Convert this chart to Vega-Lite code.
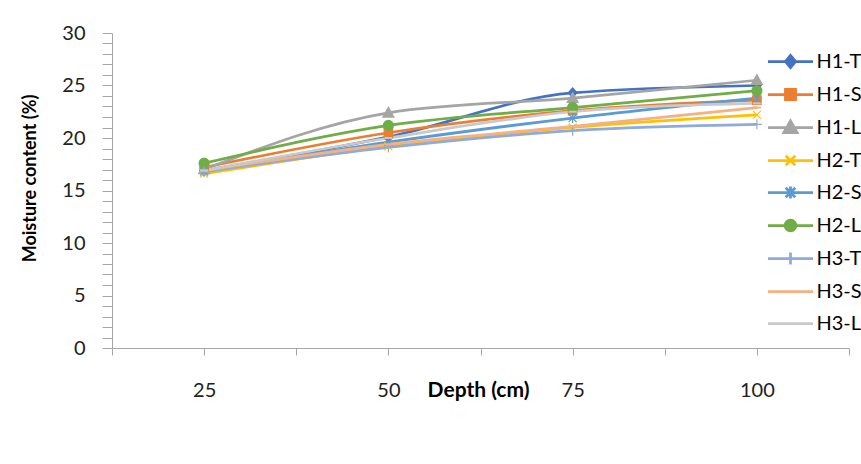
{
  "$schema": "https://vega.github.io/schema/vega-lite/v6.json",
  "width": 737,
  "height": 315,
  "autosize": {"type": "none"},
  "padding": {"left": 112, "top": 33, "right": 12, "bottom": 116},
  "background": "white",
  "config": {
    "view": {"stroke": null},
    "font": "Lato",
    "point": {"filled": true, "size": 100, "strokeWidth": 1.2, "opacity": 1},
    "axis": {"domainColor": "#A6A6A6", "tickColor": "#A6A6A6", "grid": false, "labelFont": "Lato", "labelFontSize": 20, "labelColor": "#222222", "titleFont": "Lato", "titleFontWeight": "bold", "titleColor": "#000000"}
  },
  "data": {"values": [
    {"series": "H1-T", "depth": 25, "moisture": 16.9}, {"series": "H1-T", "depth": 50, "moisture": 20.1}, {"series": "H1-T", "depth": 75, "moisture": 24.3}, {"series": "H1-T", "depth": 100, "moisture": 25.0},
    {"series": "H1-S", "depth": 25, "moisture": 17.2}, {"series": "H1-S", "depth": 50, "moisture": 20.5}, {"series": "H1-S", "depth": 75, "moisture": 22.6}, {"series": "H1-S", "depth": 100, "moisture": 23.6},
    {"series": "H1-L", "depth": 25, "moisture": 17.0}, {"series": "H1-L", "depth": 50, "moisture": 22.4}, {"series": "H1-L", "depth": 75, "moisture": 23.8}, {"series": "H1-L", "depth": 100, "moisture": 25.5},
    {"series": "H2-T", "depth": 25, "moisture": 16.6}, {"series": "H2-T", "depth": 50, "moisture": 19.2}, {"series": "H2-T", "depth": 75, "moisture": 21.0}, {"series": "H2-T", "depth": 100, "moisture": 22.2},
    {"series": "H2-S", "depth": 25, "moisture": 16.8}, {"series": "H2-S", "depth": 50, "moisture": 19.6}, {"series": "H2-S", "depth": 75, "moisture": 21.9}, {"series": "H2-S", "depth": 100, "moisture": 23.8},
    {"series": "H2-L", "depth": 25, "moisture": 17.6}, {"series": "H2-L", "depth": 50, "moisture": 21.2}, {"series": "H2-L", "depth": 75, "moisture": 22.9}, {"series": "H2-L", "depth": 100, "moisture": 24.5},
    {"series": "H3-T", "depth": 25, "moisture": 16.8}, {"series": "H3-T", "depth": 50, "moisture": 19.1}, {"series": "H3-T", "depth": 75, "moisture": 20.7}, {"series": "H3-T", "depth": 100, "moisture": 21.3},
    {"series": "H3-S", "depth": 25, "moisture": 16.9}, {"series": "H3-S", "depth": 50, "moisture": 19.4}, {"series": "H3-S", "depth": 75, "moisture": 21.1}, {"series": "H3-S", "depth": 100, "moisture": 22.9},
    {"series": "H3-L", "depth": 25, "moisture": 16.9}, {"series": "H3-L", "depth": 50, "moisture": 20.0}, {"series": "H3-L", "depth": 75, "moisture": 22.5}, {"series": "H3-L", "depth": 100, "moisture": 23.3}
  ]},
  "encoding": {
    "x": {"field": "depth", "type": "quantitative",
      "scale": {"domain": [12.5, 112.5], "nice": false, "zero": false},
      "axis": {"values": [12.5, 25, 37.5, 50, 62.5, 75, 87.5, 100, 112.5], "labelExpr": "datum.value % 25 === 0 ? datum.label : ''", "tickSize": 7, "labelPadding": 35, "labelBaseline": "middle", "labelFlush": false, "title": "Depth (cm)", "titleFontSize": 21, "titleX": 366, "titleY": 42, "titleBaseline": "middle", "titleAlign": "center"}},
    "y": {"field": "moisture", "type": "quantitative",
      "scale": {"domain": [0, 30], "nice": false},
      "axis": {"values": [0,1,2,3,4,5,6,7,8,9,10,11,12,13,14,15,16,17,18,19,20,21,22,23,24,25,26,27,28,29,30], "labelExpr": "datum.value % 5 === 0 ? datum.label : ''", "tickSize": 10, "labelPadding": 17, "title": "Moisture content (%)", "titleFontSize": 18, "titleX": -82, "titleY": 145, "titleAngle": -90, "titleBaseline": "middle", "titleAlign": "center"}}
  },
  "layer": [
    {
      "mark": {"type": "line", "interpolate": "monotone", "strokeWidth": 2.75},
      "encoding": {
        "color": {"field": "series", "type": "nominal",
          "scale": {"domain": ["H1-T","H1-S","H1-L","H2-T","H2-S","H2-L","H3-T","H3-S","H3-L"], "range": ["#4472C4","#ED7D31","#A5A5A5","#FFC000","#5B9BD5","#70AD47","#8FAADC","#F4B183","#C9C9C9"]},
          "legend": {"orient": "none", "legendX": 665, "legendY": 15, "title": null, "padding": 0, "symbolSize": 576, "symbolStrokeWidth": 2.75, "labelOffset": 12.5, "rowPadding": 8, "labelFontSize": 20, "labelFont": "Lato", "labelColor": "#000000", "labelLimit": 300,
            "encode": {"symbols": {"update": {
              "fill": {"scale": "color", "field": "value"},
              "stroke": {"scale": "color", "field": "value"},
              "shape": {"signal": "datum.value === 'H1-T' ? 'M-1.875,0L1.875,0M0,-0.5L0.42,0L0,0.5L-0.42,0Z' : datum.value === 'H1-S' ? 'M-1.875,0L1.875,0M-0.42,-0.42L0.42,-0.42L0.42,0.42L-0.42,0.42Z' : datum.value === 'H1-L' ? 'M-1.875,0L1.875,0M0,-0.55L0.55,0.42L-0.55,0.42Z' : datum.value === 'H2-T' ? 'M-1.875,0L1.875,0M-0.4,-0.4L0.4,0.4M-0.4,0.4L0.4,-0.4' : datum.value === 'H2-S' ? 'M-1.875,0L1.875,0M-0.4,-0.4L0.4,0.4M-0.4,0.4L0.4,-0.4M0,-0.5L0,0.5' : datum.value === 'H2-L' ? 'M-1.875,0L1.875,0M0.45,0A0.45,0.45 0 1,1 -0.45,0A0.45,0.45 0 1,1 0.45,0Z' : datum.value === 'H3-T' ? 'M-1.875,0L1.875,0M0,-0.5L0,0.5' : 'M-1.875,0L1.875,0'"}
            }}}
          }}
      }
    },
    {"transform": [{"filter": "datum.series === 'H1-T'"}], "mark": {"type": "point", "shape": "M0,-1L0.85,0L0,1L-0.85,0Z", "fill": "#4472C4", "stroke": "#4472C4"}, "encoding": {}},
    {"transform": [{"filter": "datum.series === 'H1-S'"}], "mark": {"type": "point", "shape": "M-0.85,-0.85L0.85,-0.85L0.85,0.85L-0.85,0.85Z", "fill": "#ED7D31", "stroke": "#ED7D31"}, "encoding": {}},
    {"transform": [{"filter": "datum.series === 'H1-L'"}], "mark": {"type": "point", "shape": "M0,-1.1L1.1,0.85L-1.1,0.85Z", "fill": "#A5A5A5", "stroke": "#A5A5A5"}, "encoding": {}},
    {"transform": [{"filter": "datum.series === 'H2-T'"}], "mark": {"type": "point", "shape": "M-0.8,-0.8L0.8,0.8M-0.8,0.8L0.8,-0.8", "fill": "#FFC000", "stroke": "#FFC000"}, "encoding": {}},
    {"transform": [{"filter": "datum.series === 'H2-S'"}], "mark": {"type": "point", "shape": "M-0.8,-0.8L0.8,0.8M-0.8,0.8L0.8,-0.8M0,-1L0,1", "fill": "#5B9BD5", "stroke": "#5B9BD5"}, "encoding": {}},
    {"transform": [{"filter": "datum.series === 'H2-L'"}], "mark": {"type": "point", "shape": "circle", "fill": "#70AD47", "stroke": "#70AD47"}, "encoding": {}},
    {"transform": [{"filter": "datum.series === 'H3-T'"}], "mark": {"type": "point", "shape": "M-1,0L1,0M0,-1L0,1", "fill": "#8FAADC", "stroke": "#8FAADC"}, "encoding": {}},
    {"transform": [{"filter": "datum.series === 'H3-S'"}], "mark": {"type": "point", "shape": "M-0.8,0L0.8,0", "fill": "#F4B183", "stroke": "#F4B183", "strokeWidth": 2}, "encoding": {}},
    {"transform": [{"filter": "datum.series === 'H3-L'"}], "mark": {"type": "point", "shape": "M-0.8,0L0.8,0", "fill": "#C9C9C9", "stroke": "#C9C9C9", "strokeWidth": 2}, "encoding": {}}
  ]
}
